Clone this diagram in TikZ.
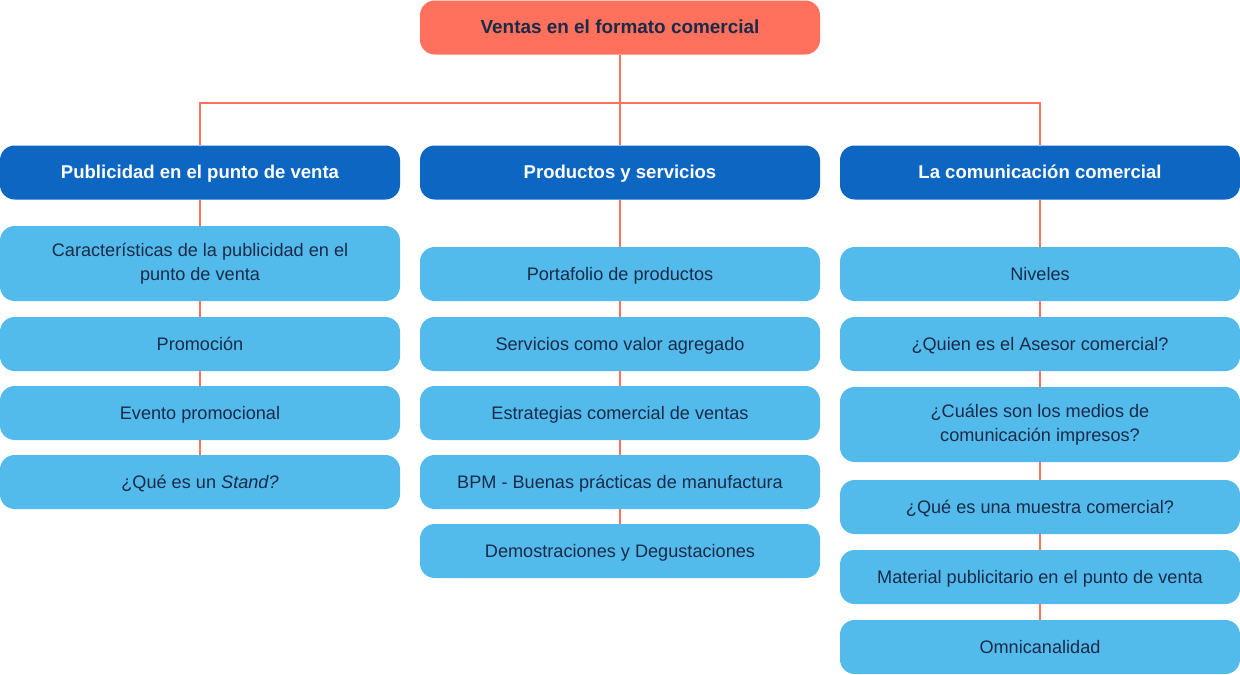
\documentclass[tikz,border=0pt]{standalone}
\usepackage{fontspec}
\setmainfont{Liberation Sans}
\usepackage{xcolor}
\usetikzlibrary{positioning,calc}
\definecolor{salmon}{HTML}{FF715D}
\definecolor{darkblue}{HTML}{0D66C2}
\definecolor{lightblue}{HTML}{53BBEC}
\definecolor{inkblue}{HTML}{1B2A47}
\begin{document}
\begin{tikzpicture}[x=0.75pt,y=-0.75pt,
	box/.style={rounded corners=11pt, minimum width=300pt, minimum height=40.5pt, inner sep=0pt, align=center},
	oneline/.style={text height=1.8ex, text depth=0ex},
	topbox/.style={box, oneline, fill=salmon, text=inkblue, font=\fontsize{14.2}{17}\selectfont\bfseries},
	headbox/.style={box, oneline, fill=darkblue, text=white, font=\fontsize{13.9}{17}\selectfont\bfseries},
	itembox/.style={box, oneline, fill=lightblue, text=inkblue, font=\fontsize{13.6}{18}\selectfont},
	tallbox/.style={box, fill=lightblue, text=inkblue, font=\fontsize{13.6}{18}\selectfont, minimum height=56.25pt},
	link/.style={draw=salmon, line width=1.3pt}]
	\useasboundingbox (0,0) rectangle (1240,675);
	% top and headings
	\node[topbox] (top) at (620,27.5) {Ventas en el formato comercial};
	\node[headbox] (pub) at (200,172.5) {Publicidad en el punto de venta};
	\node[headbox] (prod) at (620,172.5) {Productos y servicios};
	\node[headbox] (com) at (1040,172.5) {La comunicación comercial};
	\coordinate (bus) at (620,103);
	% first column
	\node[tallbox] (pub1) at (200,263.5) {Características de la publicidad en el\\punto de venta};
	\node[itembox] (pub2) at (200,344) {Promoción};
	\node[itembox] (pub3) at (200,413) {Evento promocional};
	\node[itembox] (pub4) at (200,482) {¿Qué es un \textit{Stand?}};
	% second column
	\node[itembox] (prod1) at (620,274) {Portafolio de productos};
	\node[itembox] (prod2) at (620,344) {Servicios como valor agregado};
	\node[itembox] (prod3) at (620,413) {Estrategias comercial de ventas};
	\node[itembox] (prod4) at (620,482) {BPM - Buenas prácticas de manufactura};
	\node[itembox] (prod5) at (620,551) {Demostraciones y Degustaciones};
	% third column
	\node[itembox] (com1) at (1040,274) {Niveles};
	\node[itembox] (com2) at (1040,344) {¿Quien es el Asesor comercial?};
	\node[tallbox] (com3) at (1040,424.5) {¿Cuáles son los medios de\\comunicación impresos?};
	\node[itembox] (com4) at (1040,507) {¿Qué es una muestra comercial?};
	\node[itembox] (com5) at (1040,577) {Material publicitario en el punto de venta};
	\node[itembox] (com6) at (1040,647) {Omnicanalidad};
	% connectors
	\draw[link] (top.south) -- (bus);
	\draw[link] (pub.north) |- (bus) -| (com.north);
	\draw[link] (bus) -- (prod.north);
	\foreach \a/\b in {pub/pub1,pub1/pub2,pub2/pub3,pub3/pub4,
		prod/prod1,prod1/prod2,prod2/prod3,prod3/prod4,prod4/prod5,
		com/com1,com1/com2,com2/com3,com3/com4,com4/com5,com5/com6}
		\draw[link] (\a.south) -- (\b.north);
\end{tikzpicture}
\end{document}
